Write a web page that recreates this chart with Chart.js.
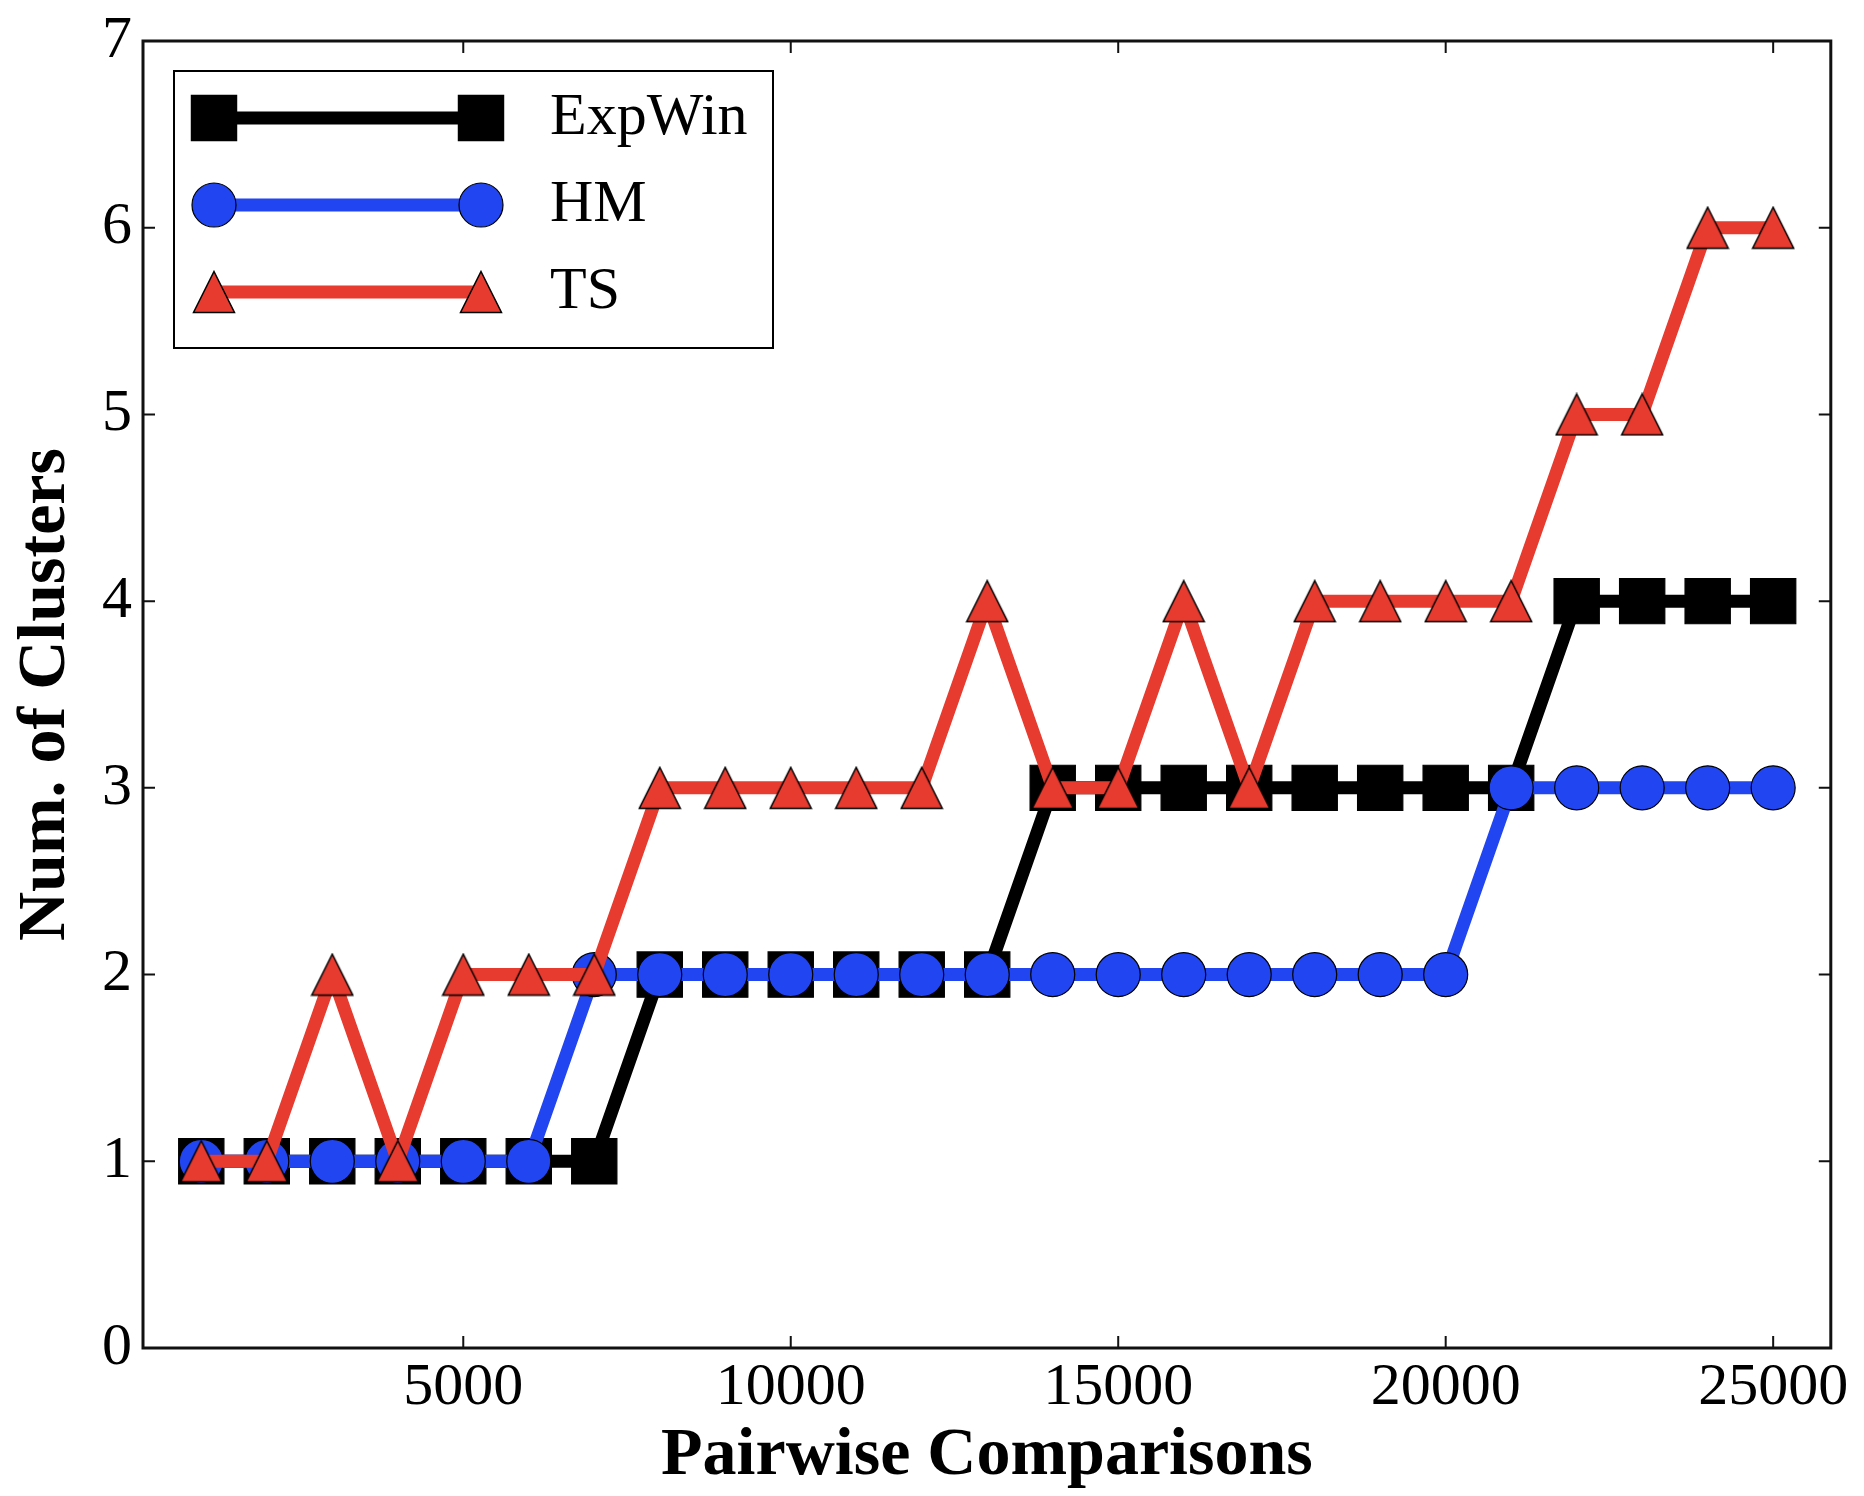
<!DOCTYPE html>
<html lang="en">
<head>
<meta charset="UTF-8">
<title>Num. of Clusters vs Pairwise Comparisons</title>
<script src="https://cdn.jsdelivr.net/npm/chart.js"></script>
<style>
  html, body { margin: 0; padding: 0; background: #fff; }
</style>
</head>
<body>
<canvas id="clusters" width="1864" height="1496"></canvas>
<script>
    // values
    const comparisons = [1000, 2000, 3000, 4000, 5000, 6000, 7000, 8000, 9000, 10000,
        11000, 12000, 13000, 14000, 15000, 16000, 17000, 18000, 19000, 20000,
        21000, 22000, 23000, 24000, 25000];
    const expWin = [1, 1, 1, 1, 1, 1, 1, 2, 2, 2, 2, 2, 2, 3, 3, 3, 3, 3, 3, 3, 3, 4, 4, 4, 4];
    const hm     = [1, 1, 1, 1, 1, 1, 2, 2, 2, 2, 2, 2, 2, 2, 2, 2, 2, 2, 2, 2, 3, 3, 3, 3, 3];
    const ts     = [1, 1, 2, 1, 2, 2, 2, 3, 3, 3, 3, 3, 4, 3, 3, 4, 3, 4, 4, 4, 4, 5, 5, 6, 6];
    const seriesNames = ['ExpWin', 'HM', 'TS'];
    const xTicks = [5000, 10000, 15000, 20000, 25000];
    const yTicks = [0, 1, 2, 3, 4, 5, 6, 7];

    const serif = "'Liberation Serif', 'DejaVu Serif', serif";
    const RED = '#e73b2f';
    const BLUE = '#2145f0';

    // matplotlib-style '^' marker (centred on its box, not its centroid)
    function triangleMarker(size, fill) {
        const c = document.createElement('canvas');
        c.width = size;
        c.height = size;
        const g = c.getContext('2d');
        const p = 1.5;
        g.beginPath();
        g.moveTo(size / 2, p);
        g.lineTo(size - p, size - p);
        g.lineTo(p, size - p);
        g.closePath();
        g.fillStyle = fill;
        g.fill();
        g.lineWidth = 1.5;
        g.strokeStyle = '#000';
        g.stroke();
        return c;
    }

    const toPoints = ys => comparisons.map((x, i) => ({x: x, y: ys[i]}));

    const series = (label, ys, color, style, radius, order) => ({
        label: label,
        data: toPoints(ys),
        borderColor: color,
        backgroundColor: color,
        borderWidth: 13,
        borderJoinStyle: 'round',
        pointStyle: style,
        pointRadius: radius,
        pointBackgroundColor: color,
        pointBorderColor: '#000',
        pointBorderWidth: 1.2,
        tension: 0,
        fill: false,
        order: order
    });

    // square frame with inward ticks on all four sides
    const frame = {
        id: 'frame',
        afterDatasetsDraw(chart) {
            const {ctx, chartArea: a, scales: {x, y}} = chart;
            const len = 12;
            ctx.save();
            ctx.strokeStyle = '#111';
            ctx.lineWidth = 2;
            ctx.beginPath();
            xTicks.forEach(v => {
                const px = x.getPixelForValue(v);
                ctx.moveTo(px, a.bottom); ctx.lineTo(px, a.bottom - len);
                ctx.moveTo(px, a.top); ctx.lineTo(px, a.top + len);
            });
            yTicks.forEach(v => {
                const py = y.getPixelForValue(v);
                ctx.moveTo(a.left, py); ctx.lineTo(a.left + len, py);
                ctx.moveTo(a.right, py); ctx.lineTo(a.right - len, py);
            });
            ctx.stroke();
            ctx.lineWidth = 3;
            ctx.strokeRect(a.left, a.top, a.right - a.left, a.bottom - a.top);
            ctx.restore();
        }
    };

    // legend: a short line with a marker at each end, like matplotlib numpoints=2
    const lineLegend = {
        id: 'lineLegend',
        afterDraw(chart) {
            const {ctx, chartArea: a} = chart;
            const left = a.left + 31, top = a.top + 30;
            const boxW = 599, boxH = 277;
            ctx.save();
            ctx.fillStyle = '#fff';
            ctx.fillRect(left, top, boxW, boxH);
            ctx.lineWidth = 2;
            ctx.strokeStyle = '#000';
            ctx.strokeRect(left, top, boxW, boxH);

            seriesNames.forEach((name, row) => {
                const ds = chart.data.datasets.find(d => d.label === name);
                const cy = top + 47 + row * 87;
                const x0 = left + 40, x1 = left + 307;
                ctx.beginPath();
                ctx.lineWidth = ds.borderWidth;
                ctx.strokeStyle = ds.borderColor;
                ctx.moveTo(x0, cy);
                ctx.lineTo(x1, cy);
                ctx.stroke();
                [x0, x1].forEach(px => {
                    ctx.fillStyle = ds.pointBackgroundColor;
                    ctx.strokeStyle = ds.pointBorderColor;
                    ctx.lineWidth = ds.pointBorderWidth;
                    Chart.helpers.drawPoint(ctx, {
                        pointStyle: ds.pointStyle,
                        radius: ds.pointRadius,
                        rotation: 0,
                        borderWidth: ds.pointBorderWidth
                    }, px, cy);
                });
                ctx.fillStyle = '#000';
                ctx.font = '60px ' + serif;
                ctx.textBaseline = 'middle';
                ctx.textAlign = 'left';
                ctx.fillText(name, left + 376, cy);
            });
            ctx.restore();
        }
    };

    new Chart(document.getElementById('clusters'), {
        type: 'line',
        data: {
            datasets: [
                series('ExpWin', expWin, '#000', 'rect', 32, 2),
                series('HM', hm, BLUE, 'circle', 22, 1),
                series('TS', ts, RED, triangleMarker(44, RED), 22, 0)
            ]
        },
        options: {
            responsive: false,
            animation: false,
            events: [],
            layout: {padding: {left: 12, top: 39, right: 29, bottom: 6}},
            plugins: {
                legend: {display: false},
                tooltip: {enabled: false}
            },
            scales: {
                x: {
                    type: 'linear',
                    min: 110,
                    max: 25880,
                    afterBuildTicks: s => { s.ticks = xTicks.map(v => ({value: v})); },
                    afterFit: s => { s.height = 142; },
                    grid: {display: false, drawTicks: false},
                    border: {display: false},
                    ticks: {
                        color: '#000',
                        padding: 10,
                        maxRotation: 0,
                        callback: v => String(v),
                        font: {family: serif, size: 60, lineHeight: 1}
                    },
                    title: {
                        display: true,
                        text: 'Pairwise Comparisons',
                        color: '#000',
                        padding: 0,
                        font: {family: serif, size: 68, weight: 'bold', lineHeight: 1}
                    }
                },
                y: {
                    min: 0,
                    max: 7,
                    afterBuildTicks: s => { s.ticks = yTicks.map(v => ({value: v})); },
                    afterFit: s => { s.width = 131; },
                    grid: {display: false, drawTicks: false},
                    border: {display: false},
                    ticks: {
                        color: '#000',
                        padding: 11,
                        callback: v => String(v),
                        font: {family: serif, size: 60, lineHeight: 1}
                    },
                    title: {
                        display: true,
                        text: 'Num. of Clusters',
                        color: '#000',
                        padding: 0,
                        font: {family: serif, size: 68, weight: 'bold', lineHeight: 1}
                    }
                }
            }
        },
        plugins: [frame, lineLegend]
    });
</script>
</body>
</html>
